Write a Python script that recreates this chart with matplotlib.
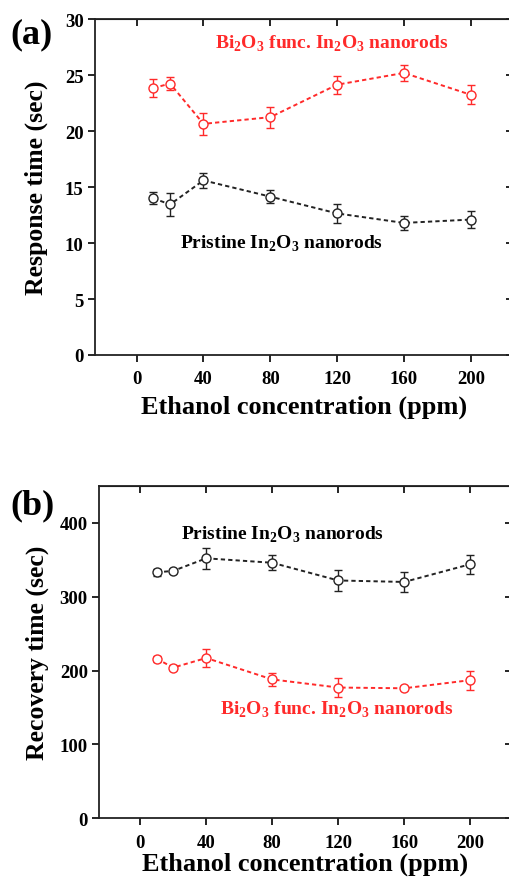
import numpy as np
import matplotlib
matplotlib.use("Agg")
import matplotlib.pyplot as plt

plt.rcParams['font.family'] = ['Liberation Serif', 'DejaVu Serif']
plt.rcParams['font.weight'] = 'bold'
plt.rcParams['mathtext.fontset'] = 'custom'
plt.rcParams['mathtext.rm'] = 'Liberation Serif:bold'
plt.rcParams['mathtext.bf'] = 'Liberation Serif:bold'

# ethanol concentration (ppm)
conc = [10, 20, 40, 80, 120, 160, 200]

# (a) response time (sec)
resp_bi = [23.85, 24.25, 20.65, 21.25, 24.15, 25.2, 23.25]
resp_bi_err = [0.8, 0.6, 1.0, 0.95, 0.8, 0.75, 0.85]
resp_pr = [14.0, 13.45, 15.6, 14.15, 12.65, 11.8, 12.1]
resp_pr_err = [0.55, 1.0, 0.7, 0.6, 0.85, 0.6, 0.75]

# (b) recovery time (sec)
rec_pr = [333, 335, 352, 346, 322, 320, 344]
rec_pr_err = [5, 3, 14, 10, 14, 14, 13]
rec_bi = [216, 204, 217, 188, 177, 176, 187]
rec_bi_err = [4, 3, 12, 9, 13, 3, 13]

RED = '#ff2a2a'
BLACK = '#222222'

bi_label = r'Bi$_\mathbf{2}$O$_\mathbf{3}$ func. In$_\mathbf{2}$O$_\mathbf{3}$ nanorods'
pr_label = r'Pristine In$_\mathbf{2}$O$_\mathbf{3}$ nanorods'


def draw_series(ax, y, err, color):
    ax.errorbar(conc, y, yerr=err, color=color, ls=(0, (2.2, 1.6)), lw=1.4,
                marker='o', ms=6.5, mfc='white', mec=color, mew=1.0,
                ecolor=color, elinewidth=1.0, capsize=3, capthick=1.0)


def style_axes(ax, yticks, ylim, xpad):
    ax.set_xlim(-25, 225)
    ax.set_ylim(*ylim)
    ax.set_xticks([0, 40, 80, 120, 160, 200])
    ax.set_yticks(yticks)
    ax.tick_params(direction='out', length=5, width=1.2, labelsize=13.5, pad=3)
    ax.tick_params(axis='x', pad=6)
    for lab in ax.get_xticklabels() + ax.get_yticklabels():
        lab.set_fontweight('bold')
    for s in ax.spines.values():
        s.set_linewidth(1.3)
        s.set_color('#222222')
    top = ax.secondary_xaxis('top')
    top.set_xticks([0, 40, 80, 120, 160, 200])
    top.tick_params(direction='in', length=5, width=1.2, labeltop=False)
    right = ax.secondary_yaxis('right')
    right.set_yticks(yticks)
    right.tick_params(direction='in', length=5, width=1.2, labelright=False)
    ax.set_xlabel('Ethanol concentration (ppm)', fontsize=19, fontweight='bold', labelpad=xpad)


fig = plt.figure(figsize=(5.1, 8.79), dpi=100)

# panel (a)
ax1 = fig.add_axes([0.186, 0.595, 0.819, 0.382])
draw_series(ax1, resp_bi, resp_bi_err, RED)
draw_series(ax1, resp_pr, resp_pr_err, BLACK)
style_axes(ax1, [0, 5, 10, 15, 20, 25, 30], (0, 30), 5)
ax1.set_ylabel('Response time (sec)', fontsize=18.5, fontweight='bold', labelpad=12)
ax1.text(117, 27.9, bi_label, color=RED, fontsize=14, ha='center', va='center')
ax1.text(87, 10.0, pr_label, color='black', fontsize=14, ha='center', va='center')
fig.text(0.02, 0.96, '(a)', fontsize=26, fontweight='bold', ha='left', va='center')

# panel (b)
ax2 = fig.add_axes([0.194, 0.068, 0.809, 0.378])
draw_series(ax2, rec_pr, rec_pr_err, BLACK)
draw_series(ax2, rec_bi, rec_bi_err, RED)
style_axes(ax2, [0, 100, 200, 300, 400], (0, 450), 1)
ax2.set_ylabel('Recovery time (sec)', fontsize=18.5, fontweight='bold', labelpad=8)
ax2.text(86, 385, pr_label, color='black', fontsize=14, ha='center', va='center')
ax2.text(119, 148, bi_label, color=RED, fontsize=14, ha='center', va='center')
fig.text(0.02, 0.425, '(b)', fontsize=26, fontweight='bold', ha='left', va='center')

fig.savefig('out.png', dpi=100)
